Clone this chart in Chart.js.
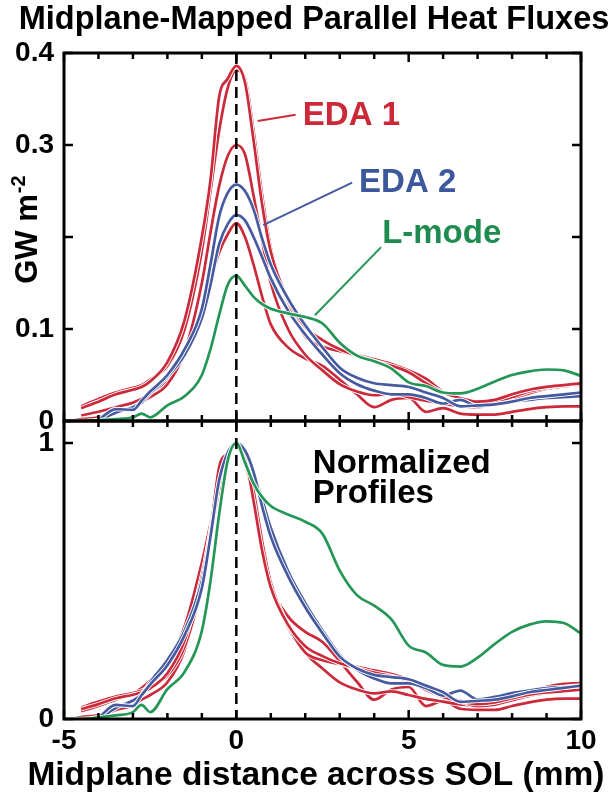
<!DOCTYPE html>
<html><head><meta charset="utf-8">
<script src="https://cdn.jsdelivr.net/npm/chart.js@4.4.1/dist/chart.umd.min.js"></script>
<style>
html,body{margin:0;padding:0;background:#fff;}
#wrap{position:relative;width:616px;height:795px;overflow:hidden;}
canvas{position:absolute;left:0;top:0;}
</style></head><body>
<div id="wrap"><canvas id="cTop" width="616" height="795"></canvas><canvas id="cBot" width="616" height="795"></canvas></div>
<script>
// ---------- data ----------
const xGrid = [-4.8,-4.5,-4,-3.5,-3,-2.75,-2.5,-2,-1.5,-1,-0.75,-0.5,-0.25,0,0.25,0.5,0.75,1,1.5,2,2.5,3,3.5,4,4.5,5,5.5,6,6.5,7,7.5,8,8.5,9,9.5,10];

// Top panel: heat flux, GW m^-2
const eda1A = [null,.014,.021,.029,.034,.037,.043,.064,.110,.200,.262,.352,.372,.386,.368,.305,.235,.184,.132,.102,.088,.078,.071,.065,.060,.053,.041,.031,.025,.021,.023,.029,.034,.037,.039,.041];
const eda1B = [null,.016,.024,.031,.036,.039,.045,.060,.100,.185,.250,.315,.362,.381,.372,.315,.245,.188,.130,.092,.081,.076,.072,.067,.062,.055,.046,.032,.024,.018,.020,.026,.032,.036,.039,.040];
const eda1C = [0,.002,.004,.010,.015,.021,.026,.040,.075,.150,.205,.255,.288,.300,.290,.245,.195,.150,.100,.072,.055,.040,.032,.028,.030,.026,.022,.019,.016,.015,.019,.024,.030,.035,.038,.039];
const eda1D = [null,.006,.010,.015,.020,.024,.030,.045,.072,.122,.152,.183,.203,.215,.200,.170,.135,.105,.080,.068,.060,.045,.029,.015,.023,.025,.010,.014,.008,.007,.007,.010,.013,.015,.016,.016];
const eda2A = [null,null,.001,.013,.012,.022,.032,.050,.078,.122,.170,.222,.248,.257,.250,.230,.198,.170,.133,.104,.080,.058,.047,.041,.039,.037,.031,.025,.016,.017,.018,.021,.025,.027,.029,.031];
const eda2B = [null,null,0,.009,.015,.020,.030,.048,.072,.112,.148,.192,.214,.224,.218,.200,.178,.155,.120,.094,.072,.052,.040,.033,.029,.029,.025,.019,.023,.016,.018,.021,.023,.025,.026,.027];
const lmode = [0,0,.001,.002,.004,.008,.004,.017,.027,.050,.078,.115,.148,.158,.147,.135,.127,.122,.117,.113,.106,.085,.071,.065,.057,.042,.038,.031,.030,.035,.043,.050,.054,.056,.055,.049];

// Bottom panel: normalized profiles
const eda1ANorm = [null,.036,.054,.075,.088,.096,.111,.166,.285,.518,.679,.912,.964,1,.953,.790,.609,.477,.342,.264,.228,.202,.184,.168,.155,.137,.106,.080,.065,.054,.060,.075,.088,.096,.101,.106];
const eda1BNorm = [null,.042,.063,.081,.094,.102,.118,.157,.262,.486,.656,.827,.950,1,.976,.827,.643,.493,.341,.241,.213,.199,.189,.176,.163,.144,.121,.084,.063,.047,.052,.068,.084,.094,.102,.105];
const eda1CNorm = [0,.007,.013,.033,.050,.070,.087,.133,.250,.500,.683,.850,.960,1,.967,.817,.650,.500,.333,.240,.183,.133,.107,.093,.100,.087,.073,.063,.053,.050,.063,.080,.100,.117,.127,.130];
const eda1DNorm = [null,.028,.047,.070,.093,.112,.140,.209,.335,.567,.707,.851,.944,1,.930,.791,.628,.488,.372,.316,.279,.209,.135,.070,.107,.116,.047,.065,.037,.033,.033,.047,.060,.070,.074,.074];
const eda2ANorm = [null,null,.004,.051,.047,.086,.125,.195,.304,.475,.661,.864,.965,1,.973,.895,.770,.661,.518,.405,.311,.226,.183,.160,.152,.144,.121,.097,.062,.066,.070,.082,.097,.105,.113,.121];
const eda2BNorm = [null,null,0,.040,.067,.089,.134,.214,.321,.500,.661,.857,.955,1,.973,.893,.795,.692,.536,.420,.321,.232,.179,.147,.129,.129,.112,.085,.103,.071,.080,.094,.103,.112,.116,.121];
const lmodeNorm = [0,0,.006,.013,.025,.051,.025,.108,.171,.320,.500,.740,.937,1,.930,.854,.804,.772,.741,.715,.671,.538,.449,.411,.361,.266,.241,.196,.190,.222,.272,.316,.342,.354,.348,.310];

// Ticks and labels
const xMinorTicks = [-5,-4,-3,-2,-1,0,1,2,3,4,5,6,7,8,9,10];
const xTickValues = [-5,0,5,10];
const xTickLabels = ['-5','0','5','10'];
const yTicksTop = [0,0.1,0.2,0.3,0.4];
const yTickLabelsTop = ['0','0.1','','0.3','0.4'];
const yTicksBot = [0,1];
const yTickLabelsBot = ['0','1'];

// ---------- styles ----------
const FONT = '"Liberation Sans", Arial, Helvetica, sans-serif';
const RED = 'rgb(202,42,58)', BLUE = 'rgb(70,90,160)', GREEN = 'rgb(36,150,86)';
const RED_T = 'rgb(204,40,56)', BLUE_T = 'rgb(60,88,156)', GREEN_T = 'rgb(30,140,80)';

const pts = arr => xGrid.map((x,i) => ({x, y: arr[i]}));
const ds = (arr, color) => ({data: pts(arr), borderColor: color, backgroundColor: color, borderWidth: 2.7, pointRadius: 0, fill: false, cubicInterpolationMode: 'monotone', spanGaps: false});

const notesTop = [
  {text:'EDA 1', color:RED_T, at:[1.93,0.322], leader:[[0.62,0.326],[1.72,0.333]], lc:RED},
  {text:'EDA 2', color:BLUE_T, at:[3.56,0.249], leader:[[0.78,0.213],[3.36,0.259]], lc:BLUE},
  {text:'L-mode', color:GREEN_T, at:[4.23,0.193], leader:[[2.28,0.115],[4.2,0.189]], lc:GREEN}
];
const notesBot = [
  {text:'Normalized', color:'#000', at:[2.22,0.891]},
  {text:'Profiles', color:'#000', at:[2.22,0.783]}
];

const zeroPad = s => { s.paddingTop = 0; s.paddingBottom = 0; s.paddingLeft = 0; s.paddingRight = 0; };

const framePlugin = {
  id: 'frame',
  beforeDatasetDraw(chart, args) {
    // thin white casing under each curve
    const el = args.meta.dataset;
    if (!el) return;
    const saved = el.options;
    el.options = Object.assign({}, saved, {borderColor: '#fff', borderWidth: saved.borderWidth + 1.8});
    el.draw(chart.ctx, chart.chartArea);
    el.options = saved;
  },
  afterDatasetsDraw(chart, args, opts) {
    const {ctx, chartArea: a, scales} = chart;
    const x = scales.x, y = scales.y;
    ctx.save();
    // dashed line at x = 0
    ctx.strokeStyle = '#000';
    ctx.lineWidth = 2.5;
    ctx.setLineDash([11, 6]);
    const x0 = x.getPixelForValue(0);
    ctx.beginPath(); ctx.moveTo(x0, a.top); ctx.lineTo(x0, a.bottom); ctx.stroke();
    ctx.setLineDash([]);
    // frame
    ctx.lineWidth = 3;
    ctx.strokeRect(a.left, a.top, a.right - a.left, a.bottom - a.top);
    // inward x ticks
    ctx.lineWidth = 2.5;
    ctx.beginPath();
    for (const v of xMinorTicks) {
      const px = x.getPixelForValue(v);
      const L = (v % 5 === 0) ? 9 : 6;
      ctx.moveTo(px, a.top); ctx.lineTo(px, a.top + L);
      ctx.moveTo(px, a.bottom); ctx.lineTo(px, a.bottom - L);
    }
    // inward y ticks
    for (const v of opts.yTicks) {
      const py = y.getPixelForValue(v);
      ctx.moveTo(a.left, py); ctx.lineTo(a.left + 9, py);
      ctx.moveTo(a.right, py); ctx.lineTo(a.right - 9, py);
    }
    ctx.stroke();
    // annotations
    for (const n of opts.notes) {
      if (n.leader) {
        ctx.strokeStyle = n.lc; ctx.lineWidth = 2;
        ctx.beginPath();
        ctx.moveTo(x.getPixelForValue(n.leader[0][0]), y.getPixelForValue(n.leader[0][1]));
        ctx.lineTo(x.getPixelForValue(n.leader[1][0]), y.getPixelForValue(n.leader[1][1]));
        ctx.stroke();
      }
      ctx.fillStyle = n.color;
      ctx.font = `bold 33px ${FONT}`;
      ctx.textAlign = 'left'; ctx.textBaseline = 'alphabetic';
      ctx.fillText(n.text, x.getPixelForValue(n.at[0]), y.getPixelForValue(n.at[1]));
    }
    // x-axis title (bottom chart)
    if (opts.xTitle) {
      ctx.fillStyle = '#000';
      ctx.font = `bold 33.5px ${FONT}`;
      ctx.textAlign = 'center'; ctx.textBaseline = 'alphabetic';
      ctx.fillText(opts.xTitle, x.getPixelForValue(2.31), a.bottom + 66);
    }
    // rotated y title (top chart)
    if (opts.yTitle) {
      ctx.fillStyle = '#000';
      ctx.font = `bold 31px ${FONT}`;
      const w1 = ctx.measureText('GW m').width;
      ctx.font = `bold 20px ${FONT}`;
      const w2 = ctx.measureText('-2').width;
      const total = w1 + w2 + 1;
      const cy = y.getPixelForValue(0.208);
      ctx.translate(a.left - 27, cy + total / 2);
      ctx.rotate(-Math.PI / 2);
      ctx.textAlign = 'left'; ctx.textBaseline = 'alphabetic';
      ctx.font = `bold 31px ${FONT}`;
      ctx.fillText('GW m', 0, 0);
      ctx.font = `bold 20px ${FONT}`;
      ctx.fillText('-2', w1 + 1, -12);
    }
    ctx.restore();
  }
};

const yTickFont = {family: FONT, size: 28, weight: 'bold'};
const xTickFont = {family: FONT, size: 28, weight: 'bold'};

// ---------- top chart ----------
new Chart(document.getElementById('cTop'), {
  type: 'line',
  data: {datasets: [ds(lmode, GREEN), ds(eda2A, BLUE), ds(eda2B, BLUE), ds(eda1A, RED), ds(eda1B, RED), ds(eda1C, RED), ds(eda1D, RED)]},
  options: {
    responsive: false, animation: false, devicePixelRatio: 1,
    layout: {padding: {left: 12, right: 0, top: 0, bottom: 374}},
    plugins: {
      legend: {display: false}, tooltip: {enabled: false},
      title: {display: true, text: 'Midplane-Mapped Parallel Heat Fluxes', color: '#000',
              font: {family: FONT, size: 32.5, weight: 'bold'}, padding: {top: 1, bottom: 13}},
      frame: {yTicks: yTicksTop, notes: notesTop, yTitle: true}
    },
    scales: {
      x: {type: 'linear', min: -5, max: 10, display: false},
      y: {type: 'linear', min: 0, max: 0.4, position: 'left',
          afterBuildTicks: s => { s.ticks = yTicksTop.map(v => ({value: v})); },
          afterFit: s => { s.width = 52; zeroPad(s); },
          grid: {drawOnChartArea: false, drawTicks: false}, border: {display: false},
          ticks: {font: yTickFont, color: '#000', padding: 10, callback: (v, i) => yTickLabelsTop[i]}},
      yR: {type: 'linear', min: 0, max: 0.4, position: 'right',
          afterFit: s => { s.width = 35; zeroPad(s); },
          grid: {drawOnChartArea: false, drawTicks: false}, border: {display: false},
          ticks: {display: false}}
    }
  },
  plugins: [framePlugin]
});

// ---------- bottom chart ----------
new Chart(document.getElementById('cBot'), {
  type: 'line',
  data: {datasets: [ds(lmodeNorm, GREEN), ds(eda2ANorm, BLUE), ds(eda2BNorm, BLUE), ds(eda1ANorm, RED), ds(eda1BNorm, RED), ds(eda1CNorm, RED), ds(eda1DNorm, RED)]},
  options: {
    responsive: false, animation: false, devicePixelRatio: 1,
    layout: {padding: {left: 0, right: 0, top: 421, bottom: 0}},
    plugins: {
      legend: {display: false}, tooltip: {enabled: false},
      frame: {yTicks: yTicksBot, notes: notesBot, yTitle: false, xTitle: 'Midplane distance across SOL (mm)'}
    },
    scales: {
      x: {type: 'linear', min: -5, max: 10, position: 'bottom',
          afterBuildTicks: s => { s.ticks = xTickValues.map(v => ({value: v})); },
          afterFit: s => { s.height = 76; zeroPad(s); },
          grid: {drawOnChartArea: false, drawTicks: false}, border: {display: false},
          ticks: {font: xTickFont, color: '#000', padding: 5, maxRotation: 0, autoSkip: false, callback: (v, i) => xTickLabels[i]}},
      y: {type: 'linear', min: 0, max: 1.08, position: 'left',
          afterBuildTicks: s => { s.ticks = yTicksBot.map(v => ({value: v})); },
          afterFit: s => { s.width = 64; zeroPad(s); },
          grid: {drawOnChartArea: false, drawTicks: false}, border: {display: false},
          ticks: {font: yTickFont, color: '#000', padding: 10, callback: (v, i) => yTickLabelsBot[i]}},
      yR: {type: 'linear', min: 0, max: 1.08, position: 'right',
          afterFit: s => { s.width = 35; zeroPad(s); },
          grid: {drawOnChartArea: false, drawTicks: false}, border: {display: false},
          ticks: {display: false}}
    }
  },
  plugins: [framePlugin]
});
</script>
</body></html>
